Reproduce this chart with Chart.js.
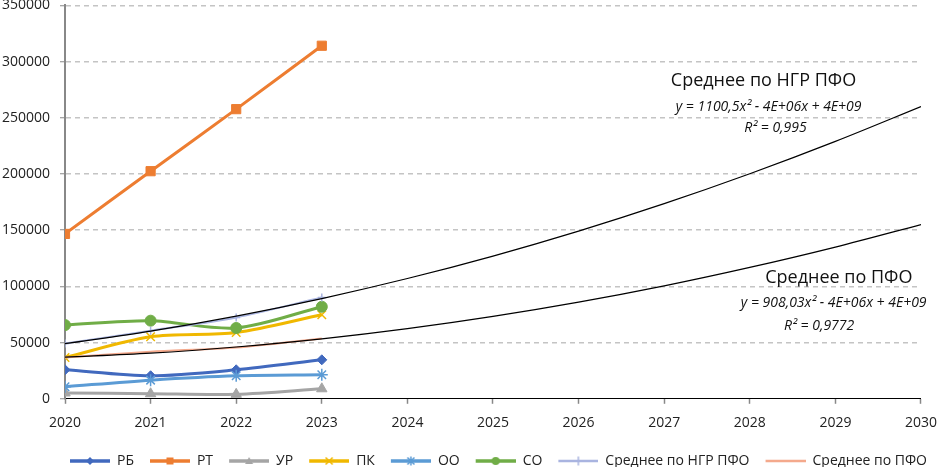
<!DOCTYPE html>
<html>
<head>
<meta charset="utf-8">
<script src="https://cdn.jsdelivr.net/npm/chart.js@4.4.1/dist/chart.umd.min.js"></script>
<style>
  html, body { margin: 0; padding: 0; background: #fff; overflow: hidden; }
  #wrap { position: absolute; left: 0; top: -13px; width: 937px; height: 491px; }
</style>
</head>
<body>
<div id="wrap"><canvas id="chart"></canvas></div>
<script>
const years = [2020, 2021, 2022, 2023];
const trendYears = [2020, 2021, 2022, 2023, 2024, 2025, 2026, 2027, 2028, 2029, 2030];

const rb = [25800, 20500, 25800, 34700];
const rt = [146700, 202500, 257700, 314100];
const ur = [5200, 4500, 4000, 8900];
const pk = [36800, 55200, 59000, 74800];
const oo = [10700, 16600, 20500, 21400];
const so = [65600, 69500, 63000, 81900];
const avgNgr = [49200, 60600, 72400, 90200];
const avgPfo = [36800, 41900, 45700, 53700];

// trend lines at each year
const trendNgr = [49000, 60200, 73600, 89200, 107000, 127000, 149200, 173600, 200200, 229000, 260000];
const trendPfo = [37000, 40600, 46100, 53300, 62400, 73300, 86000, 100500, 116900, 135000, 155000];

const names = ['РБ', 'РТ', 'УР', 'ПК', 'ОО', 'СО', 'Среднее по НГР ПФО', 'Среднее по ПФО'];
const colors = ['#4169BE', '#ED7D31', '#A5A5A5', '#F0B800', '#5B9BD5', '#70AD47', '#A9B4E0', '#F4A98C'];
const markers = ['rectRot', 'rect', 'triangle', 'crossRot', 'star', 'circle', 'cross', false];
const radii = [5, 6.5, 6, 6, 6, 5.5, 4, 0];
const widths = [3, 3, 3, 3, 3, 3, 2, 2];
const series = [rb, rt, ur, pk, oo, so, avgNgr, avgPfo];

const FONT = '"Open Sans", "Liberation Sans", sans-serif';

function toPoints(xs, ys) {
  return xs.map((x, i) => ({x: x, y: ys[i]}));
}

// small canvas with line + marker for the legend (6px blank on the left as spacing)
function legendIcon(color, marker, lw) {
  const c = document.createElement('canvas');
  c.width = 46; c.height = 14;
  const g = c.getContext('2d');
  g.strokeStyle = color;
  g.fillStyle = color;
  g.lineWidth = lw;
  g.beginPath(); g.moveTo(6, 7); g.lineTo(46, 7); g.stroke();
  const x = 26, y = 7, r = 4;
  g.lineWidth = 1.5;
  g.beginPath();
  if (marker === 'rectRot') {
    g.moveTo(x, y - r); g.lineTo(x + r, y); g.lineTo(x, y + r); g.lineTo(x - r, y); g.closePath(); g.fill();
  } else if (marker === 'rect') {
    g.rect(x - 3.5, y - 3.5, 7, 7); g.fill();
  } else if (marker === 'triangle') {
    g.moveTo(x, y - r); g.lineTo(x + r, y + 3); g.lineTo(x - r, y + 3); g.closePath(); g.fill();
  } else if (marker === 'crossRot') {
    g.moveTo(x - 3.5, y - 3.5); g.lineTo(x + 3.5, y + 3.5); g.moveTo(x + 3.5, y - 3.5); g.lineTo(x - 3.5, y + 3.5); g.stroke();
  } else if (marker === 'star') {
    g.moveTo(x - 3.5, y - 3.5); g.lineTo(x + 3.5, y + 3.5); g.moveTo(x + 3.5, y - 3.5); g.lineTo(x - 3.5, y + 3.5);
    g.moveTo(x, y - 4.5); g.lineTo(x, y + 4.5); g.stroke();
  } else if (marker === 'circle') {
    g.arc(x, y, r, 0, Math.PI * 2); g.fill();
  } else if (marker === 'cross') {
    g.moveTo(x, y - 4.5); g.lineTo(x, y + 4.5); g.moveTo(x - 4.5, y); g.lineTo(x + 4.5, y); g.stroke();
  }
  return c;
}

const datasets = series.map((s, i) => ({
  label: names[i],
  data: toPoints(years, s),
  borderColor: colors[i],
  backgroundColor: colors[i],
  borderWidth: widths[i],
  pointStyle: markers[i],
  pointRadius: radii[i],
  pointBorderWidth: markers[i] === 'crossRot' || markers[i] === 'star' || markers[i] === 'cross' ? 1.5 : 1,
  tension: 0.3,
  order: 20 - i
}));

datasets.push({
  label: 'trend1', data: toPoints(trendYears, trendNgr),
  borderColor: '#000', borderWidth: 1.2, pointRadius: 0, cubicInterpolationMode: 'monotone', order: 0
});
datasets.push({
  label: 'trend2', data: toPoints(trendYears, trendPfo),
  borderColor: '#000', borderWidth: 1.2, pointRadius: 0, cubicInterpolationMode: 'monotone', order: 0
});

const notes = [
  {text: 'Среднее по НГР ПФО', x: 2028.16, y: 283200, font: '18px ' + FONT},
  {text: 'y = 1100,5x² - 4E+06x + 4E+09', x: 2028.22, y: 259800, font: 'italic 14px ' + FONT},
  {text: 'R² = 0,995', x: 2028.3, y: 240800, font: 'italic 14px ' + FONT},
  {text: 'Среднее по ПФО', x: 2029.04, y: 107500, font: '18px ' + FONT},
  {text: 'y = 908,03x² - 4E+06x + 4E+09', x: 2028.98, y: 85500, font: 'italic 14px ' + FONT},
  {text: 'R² = 0,9772', x: 2028.81, y: 65000, font: 'italic 14px ' + FONT}
];

const notesPlugin = {
  id: 'notes',
  afterDraw(chart) {
    const ctx = chart.ctx;
    const xs = chart.scales.x, ys = chart.scales.y;
    ctx.save();
    ctx.fillStyle = '#111';
    ctx.textAlign = 'center';
    ctx.textBaseline = 'middle';
    notes.forEach(n => {
      ctx.font = n.font;
      ctx.fillText(n.text, xs.getPixelForValue(n.x), ys.getPixelForValue(n.y));
    });
    ctx.restore();
  }
};

new Chart(document.getElementById('chart'), {
  type: 'line',
  data: {datasets: datasets},
  options: {
    responsive: true,
    maintainAspectRatio: false,
    animation: false,
    layout: {padding: 0},
    scales: {
      x: {
        type: 'linear', min: 2020, max: 2030,
        ticks: {stepSize: 1, callback: v => String(v), color: '#222', font: {size: 14, family: FONT, lineHeight: 2.8}, padding: 0},
        grid: {drawOnChartArea: false, tickLength: 5, tickColor: '#888', tickWidth: 1.5},
        border: {color: '#000', width: 1},
        afterFit: scale => { scale.height += 1; }
      },
      y: {
        min: 0, max: 350000,
        ticks: {stepSize: 50000, callback: v => String(v), color: '#222', font: {size: 14, family: FONT}, padding: 10},
        grid: {
          color: ctx => ctx.tick && ctx.tick.value === 0 ? 'rgba(0,0,0,0)' : '#c4c4c4',
          lineWidth: 1.5, tickLength: 5, tickColor: '#888', tickBorderDash: [], tickWidth: 1
        },
        border: {color: '#888', width: 2, dash: [5, 4]},
        afterFit: scale => { scale.width = 65; }
      }
    },
    plugins: {
      tooltip: {enabled: false},
      legend: {
        position: 'bottom',
        align: 'end',
        labels: {
          usePointStyle: true,
          pointStyleWidth: 46,
          boxHeight: 14,
          padding: 10,
          color: '#222',
          font: {size: 14, family: FONT},
          filter: item => item.datasetIndex < 8,
          sort: (a, b) => a.datasetIndex - b.datasetIndex,
          generateLabels: chart => {
            const items = Chart.defaults.plugins.legend.labels.generateLabels(chart);
            items.forEach(it => {
              const i = it.datasetIndex;
              if (i < 8) it.pointStyle = legendIcon(colors[i], markers[i], widths[i] + 0.5);
              it.rotation = 0;
            });
            return items;
          }
        }
      }
    }
  },
  plugins: [notesPlugin]
});
</script>
</body>
</html>
